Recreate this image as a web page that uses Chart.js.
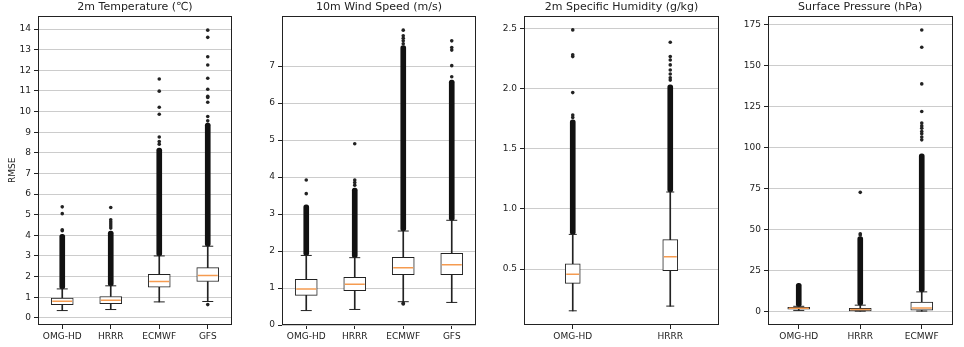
<!DOCTYPE html>
<html><head><meta charset="utf-8">
<script src="https://cdn.jsdelivr.net/npm/chart.js@4.4.0/dist/chart.umd.min.js"></script>
<style>
html,body{margin:0;padding:0;background:#fff;width:964px;height:347px;overflow:hidden}
canvas{position:absolute;left:0;top:0}
</style>
</head><body>
<canvas id="c1" width="964" height="347"></canvas>
<canvas id="c2" width="964" height="347"></canvas>
<canvas id="c3" width="964" height="347"></canvas>
<canvas id="c4" width="964" height="347"></canvas>
<script>
// ---- 2m Temperature ----
const tempCats = ['OMG-HD','HRRR','ECMWF','GFS'];
const tempQ1  = [0.63, 0.69, 1.48, 1.76];
const tempMed = [0.80, 0.85, 1.76, 2.05];
const tempQ3  = [0.95, 1.03, 2.11, 2.43];
const tempLo  = [0.35, 0.40, 0.77, 0.79];
const tempHi  = [1.40, 1.55, 3.00, 3.47];
const tempDenseTop = [4.05, 4.20, 8.23, 9.44];
const tempFliers = [
  [4.22, 4.27, 5.05, 5.38],
  [4.35, 4.45, 4.55, 4.65, 4.75, 5.35],
  [8.42, 8.55, 8.77, 9.87, 10.21, 10.99, 11.58],
  [0.64, 9.55, 9.76, 10.45, 10.68, 10.74, 11.08, 11.62, 12.26, 12.66, 13.6, 13.95]
];
const tempTicks = [0,1,2,3,4,5,6,7,8,9,10,11,12,13,14];

// ---- 10m Wind Speed ----
const windCats = ['OMG-HD','HRRR','ECMWF','GFS'];
const windQ1  = [0.80, 0.93, 1.36, 1.36];
const windMed = [0.97, 1.10, 1.55, 1.63];
const windQ3  = [1.235, 1.29, 1.83, 1.94];
const windLo  = [0.39, 0.42, 0.63, 0.61];
const windHi  = [1.88, 1.82, 2.54, 2.83];
const windDenseTop = [3.25, 3.70, 7.55, 6.62];
const windFliers = [
  [3.55, 3.92],
  [3.78, 3.85, 3.92, 4.9],
  [0.57, 0.59, 7.60, 7.68, 7.75, 7.82, 7.97],
  [6.71, 7.01, 7.43, 7.50, 7.68]
];
const windTicks = [0,1,2,3,4,5,6,7];

// ---- 2m Specific Humidity ----
const humCats = ['OMG-HD','HRRR'];
const humQ1  = [0.381, 0.486];
const humMed = [0.456, 0.602];
const humQ3  = [0.544, 0.744];
const humLo  = [0.153, 0.192];
const humHi  = [0.788, 1.14];
const humDenseTop = [1.74, 2.03];
const humFliers = [
  [1.76, 1.78, 1.966, 2.265, 2.28, 2.487],
  [2.07, 2.09, 2.12, 2.154, 2.196, 2.237, 2.265, 2.385]
];
const humTicks = [0.5,1.0,1.5,2.0,2.5];

// ---- Surface Pressure ----
const presCats = ['OMG-HD','HRRR','ECMWF'];
const presQ1  = [1.2, 0.2, 0.6];
const presMed = [1.8, 1.0, 2.0];
const presQ3  = [2.4, 1.8, 5.5];
const presLo  = [0.5, 0.05, 0.1];
const presHi  = [3.0, 3.7, 11.8];
const presDenseTop = [17, 45.5, 96];
const presFliers = [
  [],
  [46.5, 47.2, 72.5],
  [104.5, 106.2, 108.2, 109.6, 111.6, 113, 114.7, 121.8, 138.6, 161, 171.5]
];
const presTicks = [0,25,50,75,100,125,150,175];

const FONT = 'DejaVu Sans';
const INK = '#222222';
const ORANGE = '#f59b50';

const framePlugin = {
  id: 'frame',
  afterDraw(chart) {
    const a = chart.chartArea, ctx = chart.ctx;
    ctx.save();
    ctx.strokeStyle = INK; ctx.lineWidth = 1;
    ctx.strokeRect(Math.round(a.left) + 0.5, Math.round(a.top) + 0.5,
                   Math.round(a.right) - Math.round(a.left) - 1, Math.round(a.bottom) - Math.round(a.top) - 1);
    ctx.restore();
  }
};

function panel(id, o) {
  const n = o.cats.length;
  const idx = [...Array(n).keys()];
  const fl = [];
  o.fliers.forEach((arr, i) => arr.forEach(v => fl.push({x: o.cats[i], y: v})));
  const barBase = {type: 'bar', grouped: false, borderSkipped: false};
  new Chart(document.getElementById(id), {
    type: 'bar',
    data: {
      labels: o.cats,
      datasets: [
        Object.assign({}, barBase, {data: idx.map(i => [o.lo[i], o.q1[i]]), backgroundColor: INK, barThickness: 1, order: 7}),
        Object.assign({}, barBase, {data: idx.map(i => [o.q3[i], o.hi[i]]), backgroundColor: INK, barThickness: 1, order: 7}),
        Object.assign({}, barBase, {data: idx.map(i => [o.hi[i], o.dense[i]]), backgroundColor: '#111', barThickness: 5, borderRadius: 2.5, order: 6}),
        Object.assign({}, barBase, {data: idx.map(i => [o.q1[i], o.q3[i]]), backgroundColor: '#fff', borderColor: INK, borderWidth: 1, barThickness: o.boxW, order: 5}),
        {type: 'line', data: o.lo, showLine: false, pointStyle: 'line', pointRadius: o.capW / 2, pointBorderColor: INK, pointBorderWidth: 1, order: 4},
        {type: 'line', data: o.hi, showLine: false, pointStyle: 'line', pointRadius: o.capW / 2, pointBorderColor: INK, pointBorderWidth: 1, order: 4},
        {type: 'line', data: o.med, showLine: false, pointStyle: 'line', pointRadius: o.boxW / 2 - 1, pointBorderColor: ORANGE, pointBorderWidth: 1.5, order: 3},
        {type: 'line', data: fl, showLine: false, pointStyle: 'circle', pointRadius: 1.8, pointBackgroundColor: '#222', pointBorderWidth: 0, order: 1}
      ]
    },
    options: {
      responsive: false, animation: false, events: [],
      layout: {padding: {left: o.padL, right: o.padR, top: 0, bottom: 0}},
      plugins: {
        legend: {display: false}, tooltip: {enabled: false},
        title: {display: true, text: o.title, fullSize: false, color: INK,
                font: {family: FONT, size: 11, weight: 'normal'}, padding: {top: 1, bottom: 1.5}}
      },
      scales: {
        x: {
          type: 'category', offset: true,
          grid: {display: true, drawOnChartArea: false, offset: false, tickLength: 4, tickColor: INK},
          border: {display: false},
          ticks: {font: {family: FONT, size: 9}, color: INK, padding: 2, maxRotation: 0, autoSkip: false},
          afterFit: s => { s.height = 22; }
        },
        y: {
          type: 'linear', min: o.min, max: o.max,
          afterBuildTicks: s => { s.ticks = o.ticks.map(v => ({value: v})); },
          grid: {color: '#cccccc', lineWidth: 1, tickLength: 4, tickColor: INK},
          border: {display: false},
          ticks: {font: {family: FONT, size: 9}, color: INK, padding: 3, callback: v => o.fmt(v)},
          title: {display: !!o.yTitle, text: o.yTitle || '', color: INK, font: {family: FONT, size: 9}, padding: {top: 7.3, bottom: 0}},
          afterFit: s => { s.width = 38; }
        }
      }
    },
    plugins: [framePlugin]
  });
}

const intFmt = v => String(v);
const oneFmt = v => v.toFixed(1);

panel('c1', {cats: tempCats, q1: tempQ1, med: tempMed, q3: tempQ3, lo: tempLo, hi: tempHi, dense: tempDenseTop, fliers: tempFliers,
  min: -0.35, max: 14.65, ticks: tempTicks, fmt: intFmt, boxW: 22, capW: 11, padL: 0, padR: 732,
  title: '2m Temperature (\u2103)', yTitle: 'RMSE'});
panel('c2', {cats: windCats, q1: windQ1, med: windMed, q3: windQ3, lo: windLo, hi: windHi, dense: windDenseTop, fliers: windFliers,
  min: 0, max: 8.36, ticks: windTicks, fmt: intFmt, boxW: 22, capW: 11, padL: 244, padR: 488,
  title: '10m Wind Speed (m/s)'});
panel('c3', {cats: humCats, q1: humQ1, med: humMed, q3: humQ3, lo: humLo, hi: humHi, dense: humDenseTop, fliers: humFliers,
  min: 0.035, max: 2.605, ticks: humTicks, fmt: oneFmt, boxW: 15, capW: 8, padL: 486, padR: 245,
  title: '2m Specific Humidity (g/kg)'});
panel('c4', {cats: presCats, q1: presQ1, med: presMed, q3: presQ3, lo: presLo, hi: presHi, dense: presDenseTop, fliers: presFliers,
  min: -8.4, max: 180.2, ticks: presTicks, fmt: intFmt, boxW: 22, capW: 11, padL: 730, padR: 3,
  title: 'Surface Pressure (hPa)'});
</script>
</body></html>
